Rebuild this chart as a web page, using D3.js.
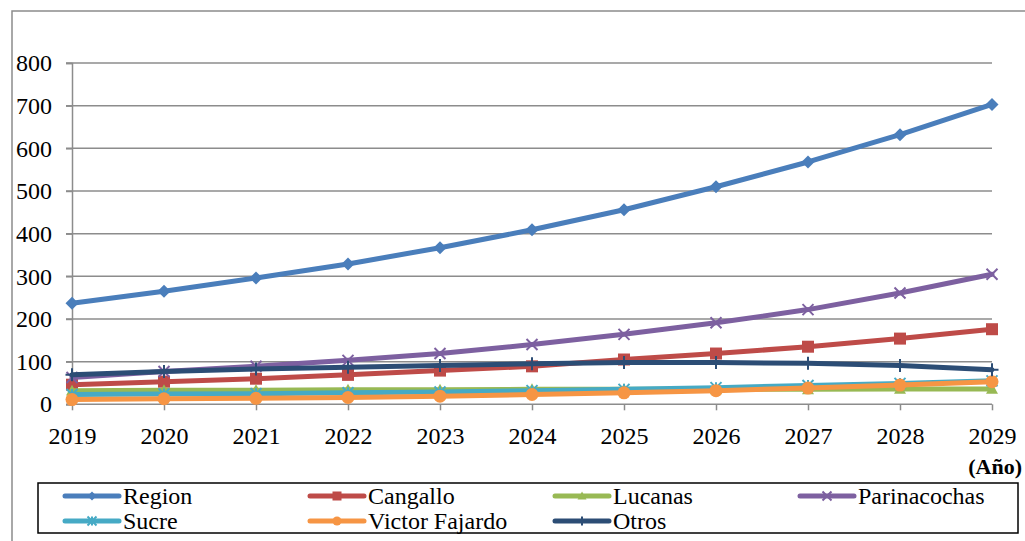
<!DOCTYPE html>
<html>
<head>
<meta charset="utf-8">
<script src="https://cdn.jsdelivr.net/npm/d3@7"></script>
<style>
  html, body { margin: 0; padding: 0; background: #fff; }
  svg { display: block; }
</style>
</head>
<body>
<svg id="chart" width="1025" height="541"></svg>
<script>
// Years on the horizontal axis
const years = ["2019", "2020", "2021", "2022", "2023", "2024", "2025", "2026", "2027", "2028", "2029"];
// Y axis ticks
const yTicks = [0, 100, 200, 300, 400, 500, 600, 700, 800];

// Series values per year
const region        = [237, 265, 296, 329, 367, 409, 456, 510, 568, 632, 703];
const cangallo      = [46, 53, 60, 69, 79, 89, 105, 119, 135, 154, 176];
const lucanas       = [32, 33, 33, 34, 34, 35, 35, 35, 35, 36, 36];
const parinacochas  = [63, 77, 89, 103, 119, 140, 164, 191, 222, 261, 305];
const sucre         = [23, 24, 25, 27, 29, 32, 35, 39, 44, 49, 55];
const victorFajardo = [11, 13, 14, 16, 19, 23, 27, 32, 38, 45, 53];
const otros         = [69, 77, 83, 87, 91, 95, 98, 98, 96, 91, 81];

const seriesNames = ["Region", "Cangallo", "Lucanas", "Parinacochas", "Sucre", "Victor Fajardo", "Otros"];
const seriesValues = [region, cangallo, lucanas, parinacochas, sucre, victorFajardo, otros];
const seriesColors = ["#4A7EBB", "#BE4B48", "#98B954", "#7D60A0", "#46AAC5", "#F69544", "#2C4D75"];
const seriesMarkers = ["diamond", "square", "triangle", "x", "asterisk", "circle", "plus"];

const FONT = '"Liberation Serif", "Times New Roman", serif';

const svg = d3.select("#chart");

// Outer frame
svg.append("path")
  .attr("d", "M12,545 L12,11 L1030,11")
  .attr("fill", "none")
  .attr("stroke", "#8c8c8c")
  .attr("stroke-width", 1.5);

const x = d3.scalePoint().domain(years).range([72, 992]);
const y = d3.scaleLinear().domain([0, 800]).range([404.3, 63]);

// Horizontal gridlines with outside ticks
svg.append("g")
  .selectAll("line")
  .data(yTicks.filter(d => d > 0))
  .join("line")
  .attr("x1", 66).attr("x2", 992)
  .attr("y1", d => y(d)).attr("y2", d => y(d))
  .attr("stroke", "#8c8c8c")
  .attr("stroke-width", 1.5);

// Y axis
const yAxis = d3.axisLeft(y).tickValues(yTicks).tickSize(6).tickPadding(14).tickFormat(d3.format("d"));
const gy = svg.append("g").attr("transform", "translate(72,0)").call(yAxis);
gy.select(".domain").attr("stroke", "#8c8c8c").attr("stroke-width", 1.5);
gy.selectAll(".tick line").attr("stroke", "#8c8c8c").attr("stroke-width", 1.5);
gy.selectAll(".tick text")
  .attr("fill", "#000")
  .style("font-family", FONT)
  .style("font-size", "24px");

// X axis
const xAxis = d3.axisBottom(x).tickSize(6).tickPadding(17);
const gx = svg.append("g").attr("transform", `translate(0,${y(0)})`).call(xAxis);
gx.select(".domain").attr("d", `M66,0H992`).attr("stroke", "#8c8c8c").attr("stroke-width", 1.5);
gx.selectAll(".tick line").attr("stroke", "#8c8c8c").attr("stroke-width", 1.5);
gx.selectAll(".tick text")
  .attr("fill", "#000")
  .style("font-family", FONT)
  .style("font-size", "24px");

// Axis title
svg.append("text")
  .attr("x", 1022).attr("y", 474)
  .attr("text-anchor", "end")
  .style("font-family", FONT)
  .style("font-size", "22px")
  .style("font-weight", "bold")
  .text("(Año)");

// Marker drawing helper
function drawMarker(g, type, color, s) {
  const h = s / 2;
  switch (type) {
    case "diamond":
      g.append("path").attr("d", `M0,${-h}L${h},0L0,${h}L${-h},0Z`).attr("fill", color);
      break;
    case "square":
      g.append("rect").attr("x", -h).attr("y", -h).attr("width", s).attr("height", s).attr("fill", color);
      break;
    case "triangle":
      g.append("path").attr("d", `M0,${-h}L${h},${h * 0.8}L${-h},${h * 0.8}Z`).attr("fill", color);
      break;
    case "circle":
      g.append("circle").attr("r", h).attr("fill", color);
      break;
    case "x":
      g.append("path").attr("d", `M${-h},${-h}L${h},${h}M${-h},${h}L${h},${-h}`)
        .attr("stroke", color).attr("stroke-width", 2);
      break;
    case "asterisk":
      g.append("path").attr("d", `M${-h},${-h}L${h},${h}M${-h},${h}L${h},${-h}M0,${-h}L0,${h}`)
        .attr("stroke", color).attr("stroke-width", 2);
      break;
    case "plus":
      g.append("path").attr("d", `M0,${-h}L0,${h}M${-h},0L${h},0`)
        .attr("stroke", color).attr("stroke-width", 2);
      break;
  }
}

const markerSize = { diamond: 13, square: 12, triangle: 12, circle: 13, x: 11, asterisk: 11, plus: 13 };

const line = d3.line()
  .x((d, i) => x(years[i]))
  .y(d => y(d));

// Series lines and markers
seriesValues.forEach((vals, si) => {
  const g = svg.append("g");
  g.append("path")
    .datum(vals)
    .attr("d", line)
    .attr("fill", "none")
    .attr("stroke", seriesColors[si])
    .attr("stroke-width", 5)
    .attr("stroke-linejoin", "round")
    .attr("stroke-linecap", "round");
  vals.forEach((v, i) => {
    const m = g.append("g").attr("transform", `translate(${x(years[i])},${y(v)})`);
    drawMarker(m, seriesMarkers[si], seriesColors[si], markerSize[seriesMarkers[si]]);
  });
});

// Legend
svg.append("rect")
  .attr("x", 38).attr("y", 483).attr("width", 980).attr("height", 50)
  .attr("fill", "#fff").attr("stroke", "#000").attr("stroke-width", 1.5);

const legendCols = [65, 310, 555, 800];
const legendRows = [496, 521];
seriesNames.forEach((name, i) => {
  const lx = legendCols[i % 4];
  const ly = legendRows[Math.floor(i / 4)];
  const g = svg.append("g");
  g.append("line")
    .attr("x1", lx).attr("x2", lx + 54)
    .attr("y1", ly).attr("y2", ly)
    .attr("stroke", seriesColors[i])
    .attr("stroke-width", 5)
    .attr("stroke-linecap", "round");
  const m = g.append("g").attr("transform", `translate(${lx + 27},${ly})`);
  drawMarker(m, seriesMarkers[i], seriesColors[i], 9);
  g.append("text")
    .attr("x", lx + 58).attr("y", ly)
    .attr("dy", "0.33em")
    .style("font-family", FONT)
    .style("font-size", "24px")
    .text(name);
});
</script>
</body>
</html>
